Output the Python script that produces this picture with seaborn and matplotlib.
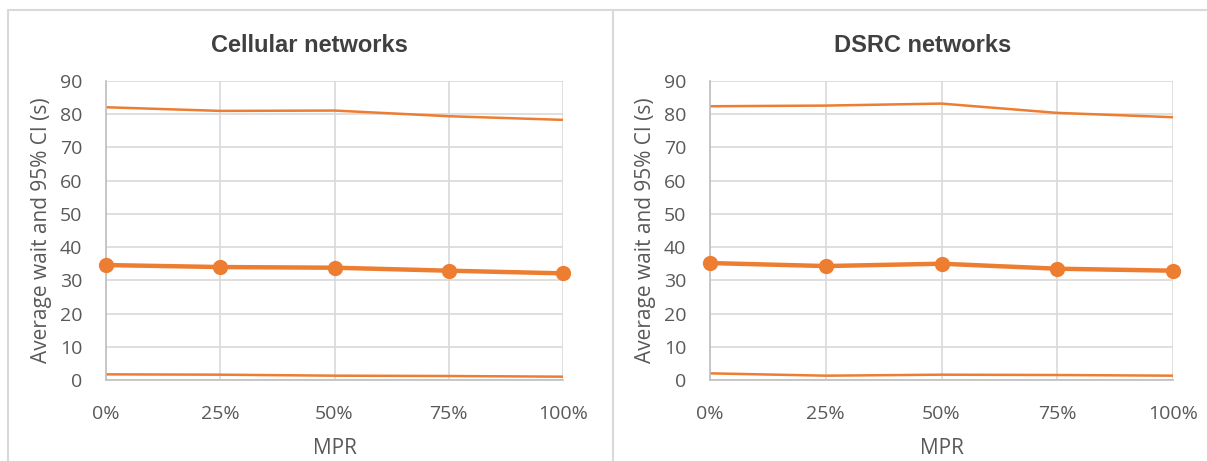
import numpy as np
import pandas as pd
import seaborn as sns
from matplotlib import pyplot as plt
from matplotlib.lines import Line2D

mpr_labels = ['0%', '25%', '50%', '75%', '100%']

cell_upper = [82.1, 81.0, 81.1, 79.4, 78.3]
cell_mean = [34.6, 34.0, 33.8, 32.9, 32.1]
cell_lower = [1.7, 1.6, 1.3, 1.2, 1.0]

dsrc_upper = [82.4, 82.6, 83.2, 80.4, 79.1]
dsrc_mean = [35.2, 34.3, 35.0, 33.5, 32.9]
dsrc_lower = [2.0, 1.3, 1.6, 1.5, 1.3]

titles = ['Cellular networks', 'DSRC networks']

sns.set_style('white')
plt.rcParams['font.family'] = ['Open Sans', 'DejaVu Sans']

orange = '#ED7D31'
grid_c = '#d9d9d9'
text_c = '#595959'

W, H = 1207, 461
fig = plt.figure(figsize=(W / 100, H / 100), dpi=100)

panels = [(cell_upper, cell_mean, cell_lower), (dsrc_upper, dsrc_mean, dsrc_lower)]
x_px = [(106, 563), (710, 1173)]
title_x = [309, 923]
y_top, y_bot = 81, 380

for i, (up, mean, low) in enumerate(panels):
    x0, x1 = x_px[i]
    ax = fig.add_axes([x0 / W, 1 - y_bot / H, (x1 - x0) / W, (y_bot - y_top) / H])
    df = pd.DataFrame({'pos': np.arange(len(mpr_labels)), 'upper': up, 'mean': mean, 'lower': low})
    sns.lineplot(data=df, x='pos', y='upper', ax=ax, color=orange, lw=1.8)
    sns.lineplot(data=df, x='pos', y='lower', ax=ax, color=orange, lw=1.8)
    sns.lineplot(data=df, x='pos', y='mean', ax=ax, color=orange, lw=3.2,
                 marker='o', markersize=11, markeredgewidth=0, clip_on=False, zorder=5)
    ax.set_xlim(0, len(mpr_labels) - 1)
    ax.set_ylim(0, 90)
    ax.set_yticks(range(0, 91, 10))
    ax.set_xticks(range(len(mpr_labels)))
    ax.set_xticklabels(mpr_labels)
    ax.grid(True, color=grid_c, lw=1.2)
    ax.set_axisbelow(True)
    for s in ['top', 'right']:
        ax.spines[s].set_visible(False)
    for s in ['left', 'bottom']:
        ax.spines[s].set_color('#bfbfbf')
        ax.spines[s].set_linewidth(1.2)
    ax.tick_params(colors=text_c, labelsize=14, length=0)
    ax.tick_params(axis='y', pad=17)
    ax.tick_params(axis='x', pad=18)
    ax.set_xlabel('MPR', fontsize=15, color=text_c, labelpad=11)
    ax.set_ylabel('Average wait and 95% CI (s)', fontsize=15, color=text_c, labelpad=6)
    fig.text(title_x[i] / W, 1 - 46 / H, titles[i], fontsize=17, fontweight='bold',
             color='#404040', ha='center', va='center',
             family=['Liberation Sans', 'DejaVu Sans'])

# chart frames
for xs, ys in [([8, 8], [10, 461]), ([613, 613], [10, 461]), ([8, 1207], [10, 10])]:
    fig.add_artist(Line2D([x / W for x in xs], [1 - y / H for y in ys],
                          color=grid_c, lw=1.5, transform=fig.transFigure))

fig.savefig('out.png', dpi=100)
